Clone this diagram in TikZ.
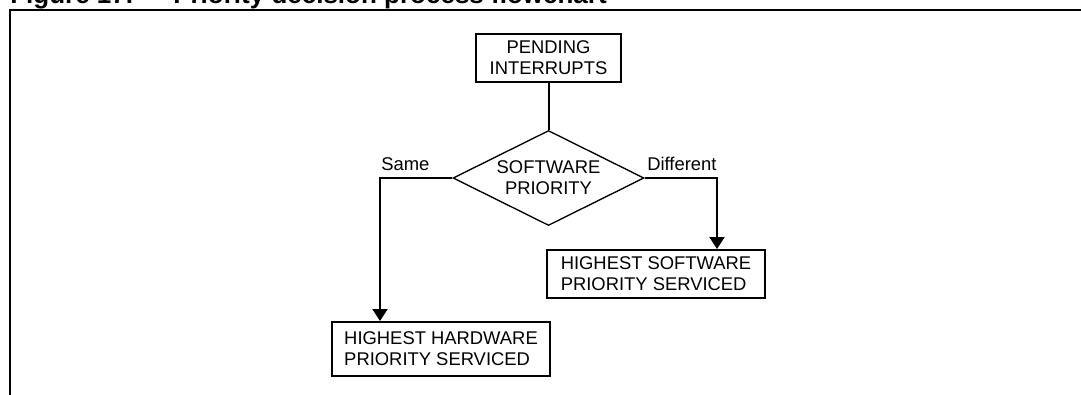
\documentclass[tikz,border=0pt]{standalone}
\usepackage{fontspec}
\setmainfont{Liberation Sans}
\usetikzlibrary{shapes.geometric,arrows.meta}
\begin{document}
\begin{tikzpicture}[x=0.75pt,y=-0.75pt,
  txt/.style={font=\fontsize{13.8}{15.75}\selectfont},
  box/.style={txt,draw,line width=1.5pt,rectangle,inner sep=0pt,align=left},
  dec/.style={txt,draw,line width=1pt,diamond,aspect=2,inner sep=0pt,align=center,
    minimum width=143.25pt,minimum height=71.25pt},
  conn/.style={line width=1.5pt},
  arr/.style={conn,-{Triangle[width=11.25pt,length=9pt]}},
  lbl/.style={txt,inner sep=0pt,anchor=base west},
  ttl/.style={font=\fontsize{19.5}{22}\selectfont\bfseries,inner sep=0pt}
]
\useasboundingbox (0,0) rectangle (1081,394);
\begin{scope}
\clip (0,0) rectangle (1081,394);
\node[ttl,anchor=base west] (title1) at (10,3) {Figure 17.};
\node[ttl,anchor=base east] (title2) at (607,3) {Priority decision process flowchart};
\draw[line width=1.5pt] (10,400) -- (10,10) -- (1090,10);
\end{scope}

\node[box,align=center,minimum width=108.75pt,minimum height=36pt] (pend) at (548.5,58) {PENDING\\INTERRUPTS};
\node[dec] (dia) at (548.5,178) {SOFTWARE\\PRIORITY};
\node[box,minimum width=163.5pt,minimum height=36pt] (sw) at (656,274) {HIGHEST SOFTWARE\\PRIORITY SERVICED};
\node[box,minimum width=163.5pt,minimum height=40.5pt] (hw) at (441,349) {HIGHEST HARDWARE\\PRIORITY SERVICED};

\draw[conn] (pend.south) -- (dia.north);
\draw[arr] (dia.east) -| ([xshift=45.75pt]sw.north);
\draw[arr] (dia.west) -| ([xshift=-45.75pt]hw.north);

\node[lbl] (same) at (381,170) {Same};
\node[lbl] (diff) at (647,170) {Different};
\end{tikzpicture}
\end{document}
